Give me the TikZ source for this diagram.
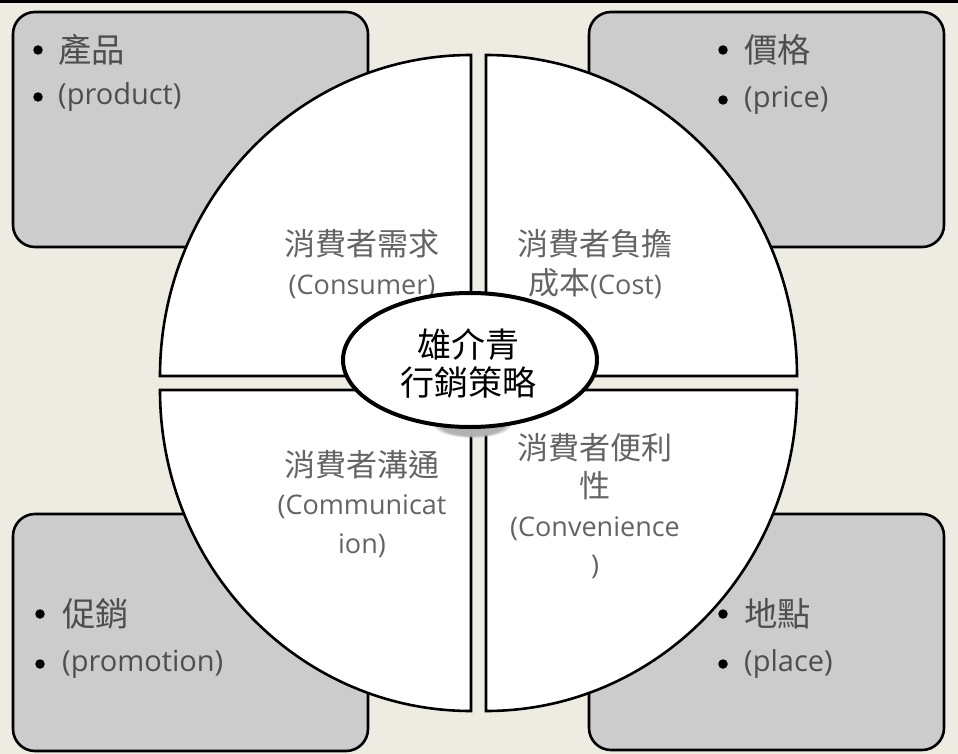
\documentclass[tikz,border=0pt]{standalone}
\usepackage{fontspec}
\setmainfont{Open Sans}
\newfontfamily\cjk{Noto Sans CJK TC}[Scale=1.15]
\newfontfamily\cjkc{Noto Sans CJK TC}
\usetikzlibrary{shapes.geometric,fadings}
\definecolor{bg}{RGB}{238,236,226}
\definecolor{boxgray}{RGB}{204,204,204}
\definecolor{qtext}{RGB}{100,100,100}
\definecolor{btext}{RGB}{78,78,78}
\tikzset{
  box/.style={draw=black, line width=2.6pt, fill=boxgray, rounded corners=22pt},
  quad/.style={draw=black, line width=2.6pt, fill=white},
  bul/.style={circle, fill=black, inner sep=0pt, minimum size=9.5pt},
  btxt/.style={anchor=west, inner sep=0pt, text=btext, font=\fontsize{29}{38}\selectfont},
  qtxt/.style={align=center, inner sep=0pt, text=qtext, font=\fontsize{27}{38.5}\selectfont},
  core/.style={ellipse, draw=black, line width=4pt, fill=white, minimum width=254pt, minimum height=134pt, inner sep=0pt},
  ctxt/.style={align=center, inner sep=0pt, text=black, font=\fontsize{34}{38}\selectfont\cjkc}
}
\begin{document}
\begin{tikzpicture}[x=1pt,y=-1pt]
\useasboundingbox (0,0) rectangle (958,754);
\fill[bg] (0,0) rectangle (958,754);
\fill[black] (0,0) rectangle (958,3.5);

% corner boxes
\draw[box] (13,12) rectangle (368,247);
\draw[box] (589,12) rectangle (944,247);
\draw[box] (13,514) rectangle (368,751);
\draw[box] (589,514) rectangle (944,750);

% quadrants
\draw[quad] (471,376) -- (471,55) arc[start angle=270,end angle=180,x radius=311,y radius=321] -- cycle;
\draw[quad] (486,376) -- (486,55) arc[start angle=270,end angle=360,x radius=311,y radius=321] -- cycle;
\draw[quad] (471,390) -- (160,390) arc[start angle=180,end angle=90,x radius=311,y radius=321] -- cycle;
\draw[quad] (486,390) -- (797,390) arc[start angle=0,end angle=90,x radius=311,y radius=321] -- cycle;

% quadrant texts
\node[qtxt] (q1) at (362,264) {{\cjk 消費者需求}\\(Consumer)};
\node[qtxt] (q2) at (595,264) {{\cjk 消費者負擔}\\{\cjk 成本}(Cost)};
\node[qtxt] (q3) at (362,504) {{\cjk 消費者溝通}\\(Communicat\\ion)};
\node[qtxt] (q4) at (595,506) {{\cjk 消費者便利}\\{\cjk 性}\\(Convenience\\)};

% box texts
\node[bul] (b1) at (38,50) {};
\node[btxt] (t1) at (58,50) {\cjk 產品};
\node[bul] (b2) at (38,97) {};
\node[btxt] (t2) at (58,97) {(product)};

\node[bul] (b3) at (723,50) {};
\node[btxt] (t3) at (744,50) {\cjk 價格};
\node[bul] (b4) at (723,100) {};
\node[btxt] (t4) at (744,100) {(price)};

\node[bul] (b5) at (40,614) {};
\node[btxt] (t5) at (62,614) {\cjk 促銷};
\node[bul] (b6) at (40,664) {};
\node[btxt] (t6) at (62,664) {(promotion)};

\node[bul] (b7) at (723,614) {};
\node[btxt] (t7) at (744,614) {\cjk 地點};
\node[bul] (b8) at (723,664) {};
\node[btxt] (t8) at (744,664) {(place)};

% centre
\fill[black!30, path fading=circle with fuzzy edge 20 percent] (472,424) ellipse [x radius=40, y radius=14];
\node[core] (core) at (470,360) {};
\node[ctxt] (ct) at (468,364) {雄介青\\行銷策略};
\end{tikzpicture}
\end{document}
